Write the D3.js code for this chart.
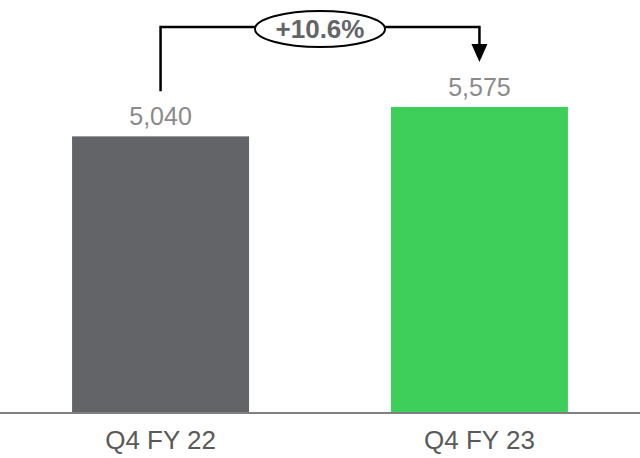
<!DOCTYPE html>
<html>
<head>
<meta charset="utf-8">
<script src="https://cdn.jsdelivr.net/npm/d3@7"></script>
<style>
  body { margin: 0; background: #fff; }
  svg { display: block; font-family: "Liberation Sans", Arial, sans-serif; }
</style>
</head>
<body>
<svg width="640" height="458"></svg>
<script>
const categories = ["Q4 FY 22", "Q4 FY 23"];
const values = [5040, 5575];
const colors = ["#636468", "#3ecf5a"];
const growthLabel = "+10.6%";

const width = 640, height = 458;
const baseY = 413;
const svg = d3.select("svg");

const x = d3.scaleBand()
  .domain(categories)
  .range([0, width])
  .paddingInner(0.445)
  .paddingOuter(0.226);

const y = d3.scaleLinear()
  .domain([0, 5575])
  .range([baseY, 107]);

// bars
svg.selectAll(".bar")
  .data(values)
  .enter().append("rect")
  .attr("class", "bar")
  .attr("x", (d, i) => x(categories[i]))
  .attr("y", d => y(d))
  .attr("width", x.bandwidth())
  .attr("height", d => baseY - y(d))
  .attr("fill", (d, i) => colors[i]);

// value labels
svg.selectAll(".val")
  .data(values)
  .enter().append("text")
  .attr("class", "val")
  .attr("x", (d, i) => x(categories[i]) + x.bandwidth() / 2)
  .attr("y", d => y(d) - 11)
  .attr("text-anchor", "middle")
  .attr("font-size", 25)
  .attr("fill", "#8a8a8a")
  .text(d => d3.format(",")(d));

// x axis
const axis = svg.append("g")
  .attr("transform", `translate(0,${baseY})`)
  .call(d3.axisBottom(x).tickSize(0).tickPadding(18));
axis.select(".domain")
  .attr("stroke", "#7f7f7f")
  .attr("stroke-width", 2)
  .attr("d", `M0,0H${width}`);
axis.selectAll("text")
  .attr("font-size", 26)
  .attr("font-family", "Liberation Sans, Arial, sans-serif")
  .attr("fill", "#595959");

// growth annotation
const x1 = x(categories[0]) + x.bandwidth() / 2;
const x2 = x(categories[1]) + x.bandwidth() / 2;
const topY = 27;
const cx = (x1 + x2) / 2;

svg.append("path")
  .attr("d", `M${x1},${y(values[0]) - 45}V${topY}H${x2}V${46}`)
  .attr("fill", "none")
  .attr("stroke", "#000")
  .attr("stroke-width", 2.5);

svg.append("path")
  .attr("d", `M${x2 - 8},44L${x2 + 8},44L${x2},62Z`)
  .attr("fill", "#000");

svg.append("ellipse")
  .attr("cx", cx)
  .attr("cy", 29)
  .attr("rx", 65)
  .attr("ry", 18)
  .attr("fill", "#fff")
  .attr("stroke", "#000")
  .attr("stroke-width", 2);

svg.append("text")
  .attr("x", cx)
  .attr("y", 38)
  .attr("text-anchor", "middle")
  .attr("font-size", 26)
  .attr("font-weight", "bold")
  .attr("fill", "#636468")
  .text(growthLabel);
</script>
</body>
</html>
